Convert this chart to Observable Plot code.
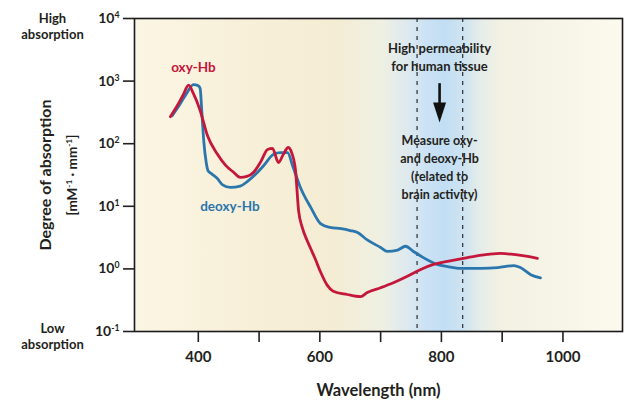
<!DOCTYPE html>
<html>
<head>
<meta charset="utf-8">
<script src="https://cdn.jsdelivr.net/npm/d3@7"></script>
<script src="https://cdn.jsdelivr.net/npm/@observablehq/plot@0.6"></script>
<style>
  html, body { margin: 0; padding: 0; background: #ffffff; }
  #chart svg { display: block; }
</style>
</head>
<body>
<div id="chart"></div>
<script>
// ---- data ----
const oxyWavelength = [354, 365, 375, 384, 392, 403, 415, 431, 445, 458, 469, 480, 491, 503, 514, 522, 532, 540, 548, 554, 560, 565, 571, 578, 585, 593, 601, 612, 622, 645, 667, 678, 700, 721, 744, 766, 787, 810, 843, 876, 898, 919, 942, 958];
const oxyValue =      [270, 400, 600, 860, 630, 340, 135, 69, 45, 35, 29, 30, 35, 52, 81, 84, 50, 68, 87, 70, 37, 8.5, 4.6, 3.0, 2.1, 1.4, 0.9, 0.55, 0.44, 0.39, 0.36, 0.42, 0.5, 0.6, 0.76, 0.98, 1.18, 1.32, 1.52, 1.7, 1.77, 1.7, 1.58, 1.47];

const deoxyWavelength = [357, 370, 380, 392, 400, 403, 406, 409, 413, 416, 422, 431, 440, 453, 469, 481, 495, 507, 524, 535, 547, 555, 568, 585, 601, 617, 635, 650, 662, 678, 700, 711, 728, 741, 754, 771, 794, 810, 832, 865, 893, 919, 930, 947, 963];
const deoxyValue =      [280, 430, 620, 880, 840, 760, 300, 110, 50, 37, 33, 28, 22, 20, 21, 25, 33, 44, 68, 72, 72, 45, 20, 9.6, 5.3, 4.6, 4.4, 4.1, 3.8, 2.9, 2.2, 1.9, 2.0, 2.3, 1.9, 1.5, 1.17, 1.09, 1.02, 1.02, 1.05, 1.13, 1.05, 0.81, 0.72];

const xDomain = [295, 1098];
const yDomain = [0.1, 10000];
const xTicks = [400, 500, 600, 700, 800, 900, 1000];
const xTickLabels = ["400", "", "600", "", "800", "", "1000"];
const yTicks = [0.1, 1, 10, 100, 1000, 10000];
const yTickLabels = ["10^{-1}", "10^{0}", "10^{1}", "10^{2}", "10^{3}", "10^{4}"];
const windowEdges = [760, 835];          // dashed lines of the "optical window"

const oxy = oxyWavelength.map((w, i) => ({w, v: oxyValue[i]}));
const deoxy = deoxyWavelength.map((w, i) => ({w, v: deoxyValue[i]}));

const RED = "#c4173b";
const BLUE = "#2a76ad";
const INK = "#231f20";

const arrowHead = {
  draw(context) {
    context.moveTo(-6.5, -10);
    context.lineTo(6.5, -10);
    context.lineTo(0, 10);
    context.closePath();
  }
};

const plot = Plot.plot({
  width: 625,
  height: 403,
  marginLeft: 134,
  marginRight: 3,
  marginTop: 18,
  marginBottom: 72,
  x: {domain: xDomain},
  y: {type: "log", domain: yDomain},
  style: {fontFamily: "Lato, 'Open Sans', sans-serif", fontWeight: 700, color: INK, background: "#ffffff", overflow: "visible"},
  marks: [
    Plot.frame({fill: "url(#bgGrad)", stroke: null}),
    Plot.ruleX(windowEdges, {stroke: "#3a3a3a", strokeWidth: 1.3, strokeDasharray: "4,5"}),
    Plot.line(deoxy, {x: "w", y: "v", stroke: BLUE, strokeWidth: 2.8, curve: "monotone-x"}),
    Plot.line(oxy, {x: "w", y: "v", stroke: RED, strokeWidth: 2.8, curve: "monotone-x"}),
    Plot.frame({stroke: "#1a1a1a", strokeWidth: 1.6}),
    Plot.axisX({ticks: xTicks, tickFormat: d => xTickLabels[xTicks.indexOf(d)], tickSize: 11, tickPadding: 9, fontSize: 15, strokeWidth: 1.6, label: null}),
    Plot.axisY({ticks: yTicks, tickFormat: d => yTickLabels[yTicks.indexOf(d)], tickSize: 11, tickPadding: 4, fontSize: 14, strokeWidth: 1.6, label: null}),
    // axis titles and side labels
    Plot.text(["Wavelength (nm)"], {frameAnchor: "bottom", dy: 64, fontSize: 16.5, fill: INK}),
    Plot.text(["Degree of absorption"], {frameAnchor: "left", textAnchor: "middle", dx: -89, rotate: -90, fontSize: 16, fill: INK}),
    Plot.text(["[mM^{-1} · mm^{-1}]"], {frameAnchor: "left", textAnchor: "middle", dx: -62, rotate: -90, fontSize: 13.5, fill: INK}),
    Plot.text(["High\nabsorption"], {y: [yDomain[1]], frameAnchor: "left", textAnchor: "middle", dx: -82, dy: 7, fontSize: 13, lineHeight: 1.22, fill: INK}),
    Plot.text(["Low\nabsorption"], {y: [yDomain[0]], frameAnchor: "left", textAnchor: "middle", dx: -82, dy: 4, fontSize: 13, lineHeight: 1.22, fill: INK}),
    // series labels
    Plot.text(["oxy-Hb"], {x: [392], y: [1650], fontSize: 13.5, fill: RED}),
    Plot.text(["deoxy-Hb"], {x: [452], y: [10], fontSize: 13.5, fill: BLUE}),
    // window annotation
    Plot.text(["High permeability\nfor human tissue"], {x: [797], y: [4500], lineAnchor: "top", fontSize: 13, lineHeight: 1.4, fill: INK}),
    Plot.ruleX([797], {y1: 910, y2: 380, stroke: "#111", strokeWidth: 2.6}),
    Plot.dot([797], {x: d => d, y: [316], symbol: arrowHead, fill: "#111", stroke: null}),
    Plot.text(["Measure oxy-\nand deoxy-Hb\n(related to\nbrain activity)"], {x: [797], y: [150], lineAnchor: "top", fontSize: 12.5, lineHeight: 1.42, fill: INK})
  ]
});

// background gradient: cream with a blue near-infrared window
const frac = w => (w - xDomain[0]) / (xDomain[1] - xDomain[0]);
const gradientStops = [
  [xDomain[0], "#fbf6e4"],
  [450, "#f8f0da"],
  [620, "#f4ecd3"],
  [700, "#eff0e2"],
  [745, "#dde9ef"],
  [775, "#cbe2f3"],
  [805, "#c2def4"],
  [835, "#cde3f1"],
  [865, "#e6ede9"],
  [900, "#f3f1e2"],
  [xDomain[1], "#fcf9ee"]
];
const svg = d3.select(plot);
const grad = svg.insert("defs", ":first-child").append("linearGradient")
  .attr("id", "bgGrad").attr("x1", 0).attr("x2", 1).attr("y1", 0).attr("y2", 0);
gradientStops.forEach(([w, c]) => grad.append("stop").attr("offset", frac(w)).attr("stop-color", c));

// superscripts: turn "^{...}" into raised tspans
plot.querySelectorAll("text, tspan").forEach(el => {
  if (el.children.length) return;
  const s = el.textContent;
  if (!s.includes("^{")) return;
  el.textContent = "";
  s.split(/(\^\{[^}]*\})/).forEach(part => {
    if (!part) return;
    const m = part.match(/^\^\{([^}]*)\}$/);
    const t = document.createElementNS("http://www.w3.org/2000/svg", "tspan");
    if (m) {
      t.textContent = m[1];
      t.setAttribute("baseline-shift", "super");
      t.setAttribute("font-size", "62%");
    } else {
      t.textContent = part;
    }
    el.appendChild(t);
  });
});

document.getElementById("chart").appendChild(plot);
</script>
</body>
</html>
